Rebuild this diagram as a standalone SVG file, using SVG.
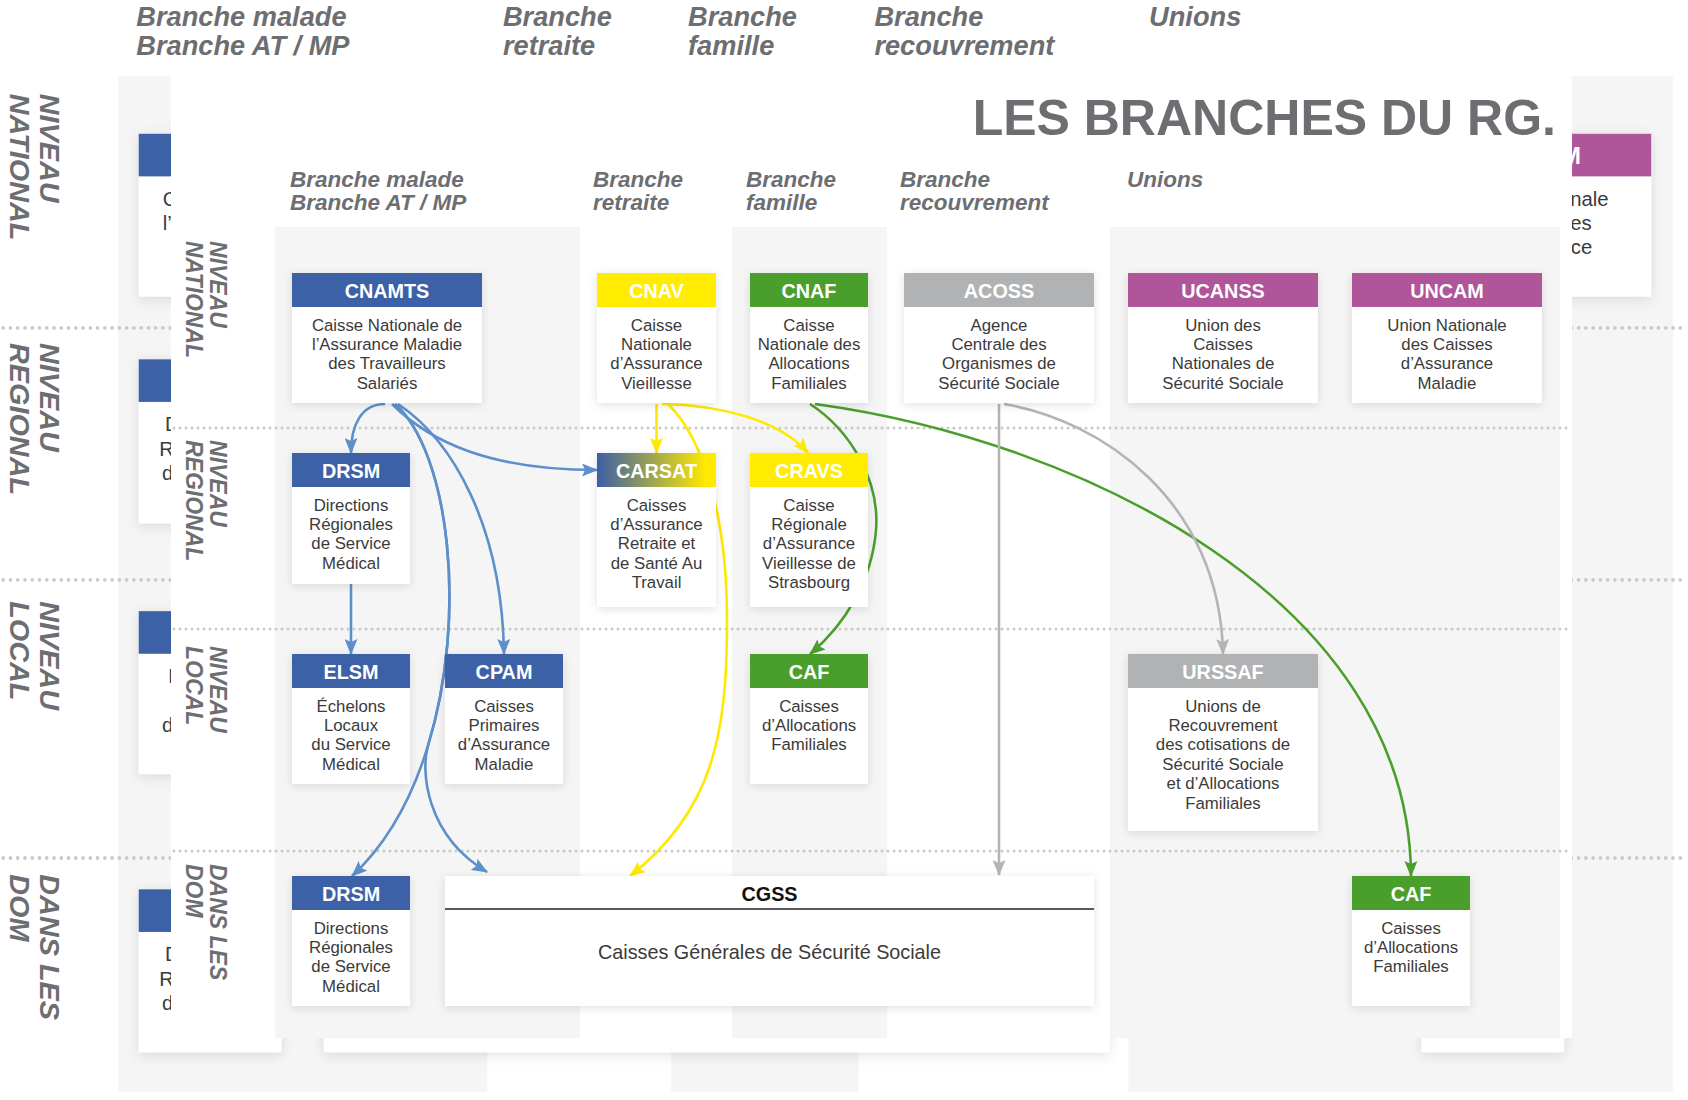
<svg xmlns="http://www.w3.org/2000/svg" xmlns:xlink="http://www.w3.org/1999/xlink" width="1688" height="1100" viewBox="0 0 1688 1100">
<style>
text{font-family:"Liberation Sans",Arial,sans-serif}
.ttl{font-size:50px;font-weight:bold;fill:#6d6e71;text-anchor:end}
.col{font-size:22.5px;font-weight:bold;font-style:italic;fill:#6d6e71}
.row{font-size:23px;font-weight:bold;font-style:italic;fill:#6d6e71}
.hd{font-size:19.8px;font-weight:bold;fill:#fff;text-anchor:middle}
.hdk{font-size:19.8px;font-weight:bold;fill:#111;text-anchor:middle}
.bd{font-size:16.8px;fill:#3a3a3a;text-anchor:middle}
.bdl{font-size:19.8px;fill:#3a3a3a;text-anchor:middle}
.cbg{fill:#f5f5f5}
.box{fill:#fff;filter:url(#sh)}
.blue{fill:#3c61a6}
.yel{fill:#ffec00}
.grn{fill:#4a9f2c}
.gry{fill:#b1b2b4}
.pur{fill:#b05599}
.grd{fill:url(#carsat)}
.dot{stroke:#c9c9c9;stroke-width:3;stroke-dasharray:0 6;stroke-linecap:round;fill:none}
.ar{fill:none;stroke-width:2.6}
.ab{stroke:#5e8fcb;marker-end:url(#mB)}
.ay{stroke:#ffe900;marker-end:url(#mY)}
.ag{stroke:#4a9f2c;marker-end:url(#mG)}
.ak{stroke:#b4b4b4;marker-end:url(#mK)}
</style>
<defs>
<filter id="sh" x="-20%" y="-20%" width="140%" height="140%">
<feDropShadow dx="0" dy="2" stdDeviation="5" flood-color="#000" flood-opacity="0.12"/>
</filter>
<linearGradient id="carsat" x1="0" y1="0" x2="1" y2="0">
<stop offset="0" stop-color="#3c5ea6"/>
<stop offset="0.92" stop-color="#ffea00"/>
</linearGradient>
<marker id="mB" viewBox="0 0 16 13" refX="15" refY="6.5" markerWidth="16" markerHeight="13" markerUnits="userSpaceOnUse" orient="auto"><path d="M0,0 L16,6.5 L0,13 L3,6.5 Z" fill="#5e8fcb"/></marker>
<marker id="mY" viewBox="0 0 16 13" refX="15" refY="6.5" markerWidth="16" markerHeight="13" markerUnits="userSpaceOnUse" orient="auto"><path d="M0,0 L16,6.5 L0,13 L3,6.5 Z" fill="#ffe900"/></marker>
<marker id="mG" viewBox="0 0 16 13" refX="15" refY="6.5" markerWidth="16" markerHeight="13" markerUnits="userSpaceOnUse" orient="auto"><path d="M0,0 L16,6.5 L0,13 L3,6.5 Z" fill="#4a9f2c"/></marker>
<marker id="mK" viewBox="0 0 16 13" refX="15" refY="6.5" markerWidth="16" markerHeight="13" markerUnits="userSpaceOnUse" orient="auto"><path d="M0,0 L16,6.5 L0,13 L3,6.5 Z" fill="#b4b4b4"/></marker>
</defs>

<!-- enlarged backdrop copy of the diagram -->
<use xlink:href="#main" href="#main" transform="matrix(1.21 0 0 1.253 -214.6 -208.3)"/>
<rect id="panel" x="171" y="70" width="1401" height="968" fill="#fff"/>

<g id="main">
<g id="columns">
<rect class="cbg" x="275" y="227" width="305" height="811"/>
<rect class="cbg" x="732" y="227" width="155" height="811"/>
<rect class="cbg" x="1110" y="227" width="450" height="811"/>
</g>
<g id="levels">
<line class="dot" x1="174" y1="428" x2="1570" y2="428"/>
<line class="dot" x1="174" y1="629" x2="1570" y2="629"/>
<line class="dot" x1="174" y1="851" x2="1570" y2="851"/>
</g>
<text id="title" class="ttl" x="1556" y="135">LES BRANCHES DU RG.</text>
<g id="col-headers">
<text class="col"><tspan x="290" y="187">Branche malade</tspan><tspan x="290" y="210">Branche AT / MP</tspan></text>
<text class="col"><tspan x="593" y="187">Branche</tspan><tspan x="593" y="210">retraite</tspan></text>
<text class="col"><tspan x="746" y="187">Branche</tspan><tspan x="746" y="210">famille</tspan></text>
<text class="col"><tspan x="900" y="187">Branche</tspan><tspan x="900" y="210">recouvrement</tspan></text>
<text class="col" x="1127" y="187">Unions</text>
</g>
<g id="row-labels">
<text class="row" transform="translate(210,241) rotate(90)"><tspan x="0" y="0">NIVEAU</tspan><tspan x="0" y="24">NATIONAL</tspan></text>
<text class="row" transform="translate(210,440) rotate(90)"><tspan x="0" y="0">NIVEAU</tspan><tspan x="0" y="24">REGIONAL</tspan></text>
<text class="row" transform="translate(210,646) rotate(90)"><tspan x="0" y="0">NIVEAU</tspan><tspan x="0" y="24">LOCAL</tspan></text>
<text class="row" transform="translate(210,864) rotate(90)"><tspan x="0" y="0">DANS LES</tspan><tspan x="0" y="24">DOM</tspan></text>
</g>

<g id="connectors">
<path class="ar ab" d="M385,404 C362,404 351,424 351,453"/>
<path class="ar ab" d="M392,404 C430,442 490,470 597,470"/>
<path class="ar ab" d="M398,404 C452,440 502,525 504,654"/>
<path class="ar ab" d="M395,404 C449,451.5 468.3,615.2 427.8,746.4 C412.1,797.4 387.3,843.5 352,876"/>
<path class="ar ab" d="M395,404 C449,451.5 468.3,615.2 427.8,746.4 C421,770 425,835 487,872"/>
<path class="ar ab" d="M351,584 L351,654"/>
<path class="ar ay" d="M656.5,404 L656.5,453"/>
<path class="ar ay" d="M662,404 C720,405 780,420 808,453"/>
<path class="ar ay" d="M668,404 C705,440 727,520 727,620 C727,730 715,810 630,876"/>
<path class="ar ag" d="M810,404 C850,430 880,480 876,530 C872,580 845,625 810,654"/>
<path class="ar ag" d="M815,404 C1080,440 1410,600 1411,876"/>
<path class="ar ak" d="M999,404 L999,875"/>
<path class="ar ak" d="M1004,404 C1100,420 1220,500 1223,654"/>
</g>

<g id="n-cnamts">
<rect class="box" x="292" y="273" width="190" height="130"/>
<rect class="blue" x="292" y="273" width="190" height="34"/>
<text class="hd" x="387" y="297.5">CNAMTS</text>
<text class="bd"><tspan x="387" y="330.5">Caisse Nationale de</tspan><tspan x="387" y="349.9">l’Assurance Maladie</tspan><tspan x="387" y="369.3">des Travailleurs</tspan><tspan x="387" y="388.7">Salariés</tspan></text>
</g>
<g id="n-cnav">
<rect class="box" x="597" y="273" width="119" height="130"/>
<rect class="yel" x="597" y="273" width="119" height="34"/>
<text class="hd" x="656.5" y="297.5">CNAV</text>
<text class="bd"><tspan x="656.5" y="330.5">Caisse</tspan><tspan x="656.5" y="349.9">Nationale</tspan><tspan x="656.5" y="369.3">d’Assurance</tspan><tspan x="656.5" y="388.7">Vieillesse</tspan></text>
</g>
<g id="n-cnaf">
<rect class="box" x="750" y="273" width="118" height="130"/>
<rect class="grn" x="750" y="273" width="118" height="34"/>
<text class="hd" x="809" y="297.5">CNAF</text>
<text class="bd"><tspan x="809" y="330.5">Caisse</tspan><tspan x="809" y="349.9">Nationale des</tspan><tspan x="809" y="369.3">Allocations</tspan><tspan x="809" y="388.7">Familiales</tspan></text>
</g>
<g id="n-acoss">
<rect class="box" x="904" y="273" width="190" height="130"/>
<rect class="gry" x="904" y="273" width="190" height="34"/>
<text class="hd" x="999" y="297.5">ACOSS</text>
<text class="bd"><tspan x="999" y="330.5">Agence</tspan><tspan x="999" y="349.9">Centrale des</tspan><tspan x="999" y="369.3">Organismes de</tspan><tspan x="999" y="388.7">Sécurité Sociale</tspan></text>
</g>
<g id="n-ucanss">
<rect class="box" x="1128" y="273" width="190" height="130"/>
<rect class="pur" x="1128" y="273" width="190" height="34"/>
<text class="hd" x="1223" y="297.5">UCANSS</text>
<text class="bd"><tspan x="1223" y="330.5">Union des</tspan><tspan x="1223" y="349.9">Caisses</tspan><tspan x="1223" y="369.3">Nationales de</tspan><tspan x="1223" y="388.7">Sécurité Sociale</tspan></text>
</g>
<g id="n-uncam">
<rect class="box" x="1352" y="273" width="190" height="130"/>
<rect class="pur" x="1352" y="273" width="190" height="34"/>
<text class="hd" x="1447" y="297.5">UNCAM</text>
<text class="bd"><tspan x="1447" y="330.5">Union Nationale</tspan><tspan x="1447" y="349.9">des Caisses</tspan><tspan x="1447" y="369.3">d’Assurance</tspan><tspan x="1447" y="388.7">Maladie</tspan></text>
</g>

<g id="n-drsm">
<rect class="box" x="292" y="453" width="118" height="131"/>
<rect class="blue" x="292" y="453" width="118" height="34"/>
<text class="hd" x="351" y="477.5">DRSM</text>
<text class="bd"><tspan x="351" y="510.5">Directions</tspan><tspan x="351" y="529.9">Régionales</tspan><tspan x="351" y="549.3">de Service</tspan><tspan x="351" y="568.7">Médical</tspan></text>
</g>
<g id="n-carsat">
<rect class="box" x="597" y="453" width="119" height="154"/>
<rect class="grd" x="597" y="453" width="119" height="34"/>
<text class="hd" x="656.5" y="477.5">CARSAT</text>
<text class="bd"><tspan x="656.5" y="510.5">Caisses</tspan><tspan x="656.5" y="529.9">d’Assurance</tspan><tspan x="656.5" y="549.3">Retraite et</tspan><tspan x="656.5" y="568.7">de Santé Au</tspan><tspan x="656.5" y="588.1">Travail</tspan></text>
</g>
<g id="n-cravs">
<rect class="box" x="750" y="453" width="118" height="154"/>
<rect class="yel" x="750" y="453" width="118" height="34"/>
<text class="hd" x="809" y="477.5">CRAVS</text>
<text class="bd"><tspan x="809" y="510.5">Caisse</tspan><tspan x="809" y="529.9">Régionale</tspan><tspan x="809" y="549.3">d’Assurance</tspan><tspan x="809" y="568.7">Vieillesse de</tspan><tspan x="809" y="588.1">Strasbourg</tspan></text>
</g>

<g id="n-elsm">
<rect class="box" x="292" y="654" width="118" height="130"/>
<rect class="blue" x="292" y="654" width="118" height="34"/>
<text class="hd" x="351" y="678.5">ELSM</text>
<text class="bd"><tspan x="351" y="711.5">Échelons</tspan><tspan x="351" y="730.9">Locaux</tspan><tspan x="351" y="750.3">du Service</tspan><tspan x="351" y="769.7">Médical</tspan></text>
</g>
<g id="n-cpam">
<rect class="box" x="445" y="654" width="118" height="130"/>
<rect class="blue" x="445" y="654" width="118" height="34"/>
<text class="hd" x="504" y="678.5">CPAM</text>
<text class="bd"><tspan x="504" y="711.5">Caisses</tspan><tspan x="504" y="730.9">Primaires</tspan><tspan x="504" y="750.3">d’Assurance</tspan><tspan x="504" y="769.7">Maladie</tspan></text>
</g>
<g id="n-caf">
<rect class="box" x="750" y="654" width="118" height="130"/>
<rect class="grn" x="750" y="654" width="118" height="34"/>
<text class="hd" x="809" y="678.5">CAF</text>
<text class="bd"><tspan x="809" y="711.5">Caisses</tspan><tspan x="809" y="730.9">d’Allocations</tspan><tspan x="809" y="750.3">Familiales</tspan></text>
</g>
<g id="n-urssaf">
<rect class="box" x="1128" y="654" width="190" height="177"/>
<rect class="gry" x="1128" y="654" width="190" height="34"/>
<text class="hd" x="1223" y="678.5">URSSAF</text>
<text class="bd"><tspan x="1223" y="711.5">Unions de</tspan><tspan x="1223" y="730.9">Recouvrement</tspan><tspan x="1223" y="750.3">des cotisations de</tspan><tspan x="1223" y="769.7">Sécurité Sociale</tspan><tspan x="1223" y="789.1">et d’Allocations</tspan><tspan x="1223" y="808.5">Familiales</tspan></text>
</g>

<g id="n-drsm-dom">
<rect class="box" x="292" y="876" width="118" height="130"/>
<rect class="blue" x="292" y="876" width="118" height="34"/>
<text class="hd" x="351" y="900.5">DRSM</text>
<text class="bd"><tspan x="351" y="933.5">Directions</tspan><tspan x="351" y="952.9">Régionales</tspan><tspan x="351" y="972.3">de Service</tspan><tspan x="351" y="991.7">Médical</tspan></text>
</g>
<g id="n-cgss">
<rect class="box" x="445" y="876" width="649" height="130"/>
<text class="hdk" x="769.5" y="900.5">CGSS</text>
<line x1="445" y1="909" x2="1094" y2="909" stroke="#222" stroke-width="1.6"/>
<text class="bdl" x="769.5" y="959">Caisses Générales de Sécurité Sociale</text>
</g>
<g id="n-caf-dom">
<rect class="box" x="1352" y="876" width="118" height="130"/>
<rect class="grn" x="1352" y="876" width="118" height="34"/>
<text class="hd" x="1411" y="900.5">CAF</text>
<text class="bd"><tspan x="1411" y="933.5">Caisses</tspan><tspan x="1411" y="952.9">d’Allocations</tspan><tspan x="1411" y="972.3">Familiales</tspan></text>
</g>
</g>
</svg>
